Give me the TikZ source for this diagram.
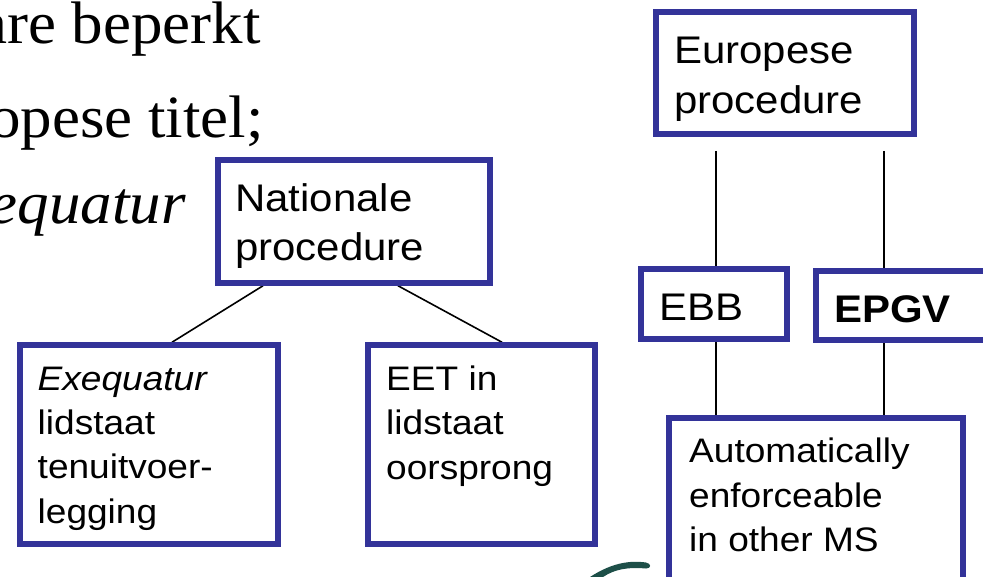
\documentclass[tikz,border=0pt]{standalone}
\usepackage{fontspec}
\usetikzlibrary{calc}
\newfontfamily\boxfont[FakeStretch=1.09]{Liberation Sans}
\newfontfamily\serifx[FakeStretch=1.05]{Liberation Serif}
\definecolor{boxblue}{RGB}{51,51,153}
\definecolor{logoteal}{RGB}{29,79,72}
\pgfdeclarelayer{background}
\pgfsetlayers{background,main}
\tikzset{
  box/.style={draw=boxblue, line width=5.5pt, fill=white, inner sep=0pt, rectangle},
  bigtext/.style={inner sep=0pt, anchor=base west, align=left, font=\boxfont\fontsize{38.5}{48.5}\selectfont},
  smalltext/.style={inner sep=0pt, anchor=base west, align=left, font=\boxfont\fontsize{34}{44.4}\selectfont},
  slidetext/.style={inner sep=0pt, anchor=base east, font=\serifx\fontsize{60}{72}\selectfont},
  conn/.style={draw=black, line width=1.6pt},
}
\begin{document}
\begin{tikzpicture}[x=1pt,y=-1pt]
\useasboundingbox (0,0) rectangle (983,576);
\clip (0,0) rectangle (983,576);
% slide text, cut off at the left
\node[slidetext] (s1) at (261,43) {are beperkt};
\node[slidetext] (s2) at (264,137) {opese titel;};
\node[slidetext] (s3) at (186,223) {\itshape equatur};
% boxes
\node[box, minimum width=272pt, minimum height=123pt] (nat) at (354,221.5) {};
\node[box, minimum width=258pt, minimum height=199pt] (exq) at (149,444.5) {};
\node[box, minimum width=227pt, minimum height=199pt] (eet) at (481.5,444.5) {};
\node[box, minimum width=258pt, minimum height=122pt] (eur) at (785,73) {};
\node[box, minimum width=146pt, minimum height=70pt] (ebb) at (714,304) {};
\node[box, minimum width=184pt, minimum height=69pt] (epgv) at (908,305.5) {};
\node[box, minimum width=294pt, minimum height=182pt] (aut) at (816,509) {};
% texts (base anchor = baseline of the last line)
\node[bigtext] (natt) at (235,260) {Nationale\\procedure};
\node[bigtext, font=\boxfont\fontsize{38.5}{50}\selectfont] (eurt) at (674,113.3) {Europese\\procedure};
\node[smalltext] (exqt) at (37.5,523.3) {\textit{Exequatur}\\lidstaat\\tenuitvoer-\\legging};
\node[smalltext] (eett) at (386,479) {EET in\\lidstaat\\oorsprong};
\node[bigtext] (ebbt) at (659,320) {EBB};
\node[bigtext] (epgvt) at (834,322) {\bfseries EPGV};
\node[smalltext] (autt) at (689,551.7) {Automatically\\enforceable\\in other MS};
% connectors
\begin{pgfonlayer}{background}
\draw[conn] ($(nat.south west)!(263,0)!(nat.south east)$) -- ($(exq.north west)!(172,0)!(exq.north east)$);
\draw[conn] ($(nat.south west)!(398,0)!(nat.south east)$) -- ($(eet.north west)!(502,0)!(eet.north east)$);
\draw[conn, shorten <=14pt] ($(eur.south west)!(716,0)!(eur.south east)$) -- ($(ebb.north west)!(716,0)!(ebb.north east)$);
\draw[conn, shorten <=14pt] ($(eur.south west)!(884,0)!(eur.south east)$) -- ($(epgv.north west)!(884,0)!(epgv.north east)$);
\draw[conn] ($(ebb.south west)!(716,0)!(ebb.south east)$) -- ($(aut.north west)!(716,0)!(aut.north east)$);
\draw[conn] ($(epgv.south west)!(884,0)!(epgv.south east)$) -- ($(aut.north west)!(884,0)!(aut.north east)$);
\end{pgfonlayer}
% logo fragment
\fill[logoteal] (590,577) .. controls (607,566) and (625,559.5) .. (646,562.5)
  .. controls (651.5,563.5) and (651.5,568.5) .. (646,568.5)
  .. controls (628,567) and (615,569) .. (603,577) -- cycle;
\end{tikzpicture}
\end{document}
